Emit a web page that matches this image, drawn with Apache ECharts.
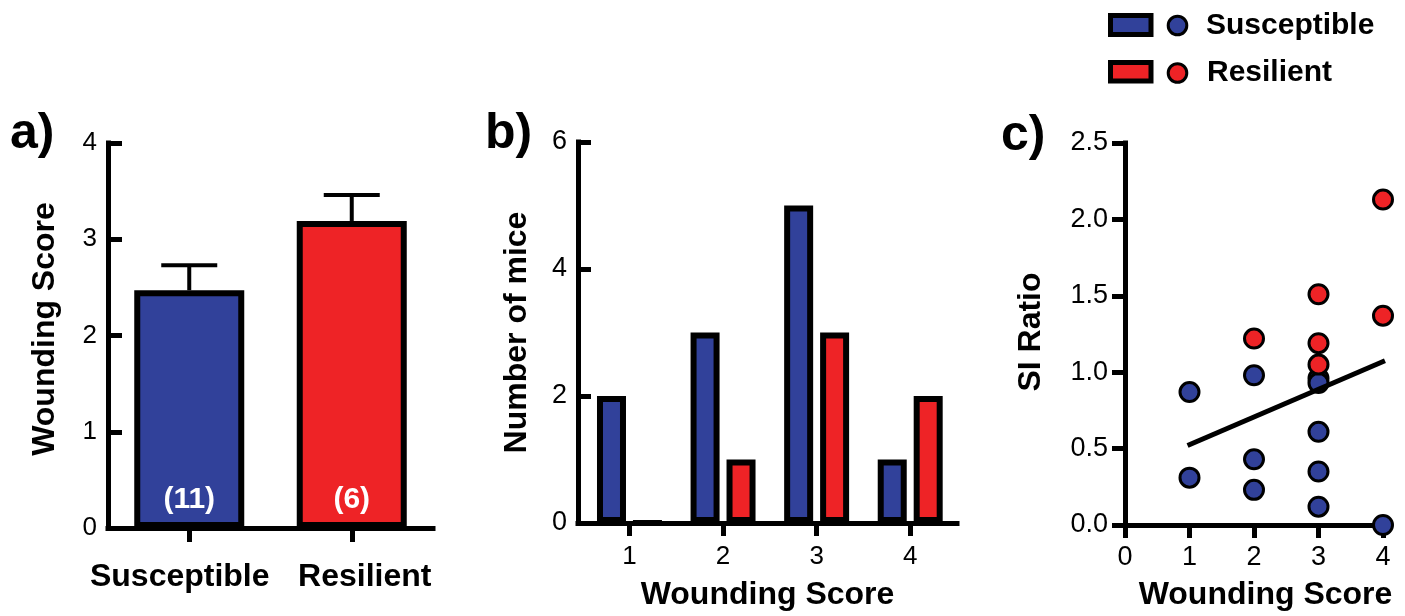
<!DOCTYPE html>
<html>
<head>
<meta charset="utf-8">
<script src="https://cdn.jsdelivr.net/npm/echarts@6/dist/echarts.min.js"></script>
<style>
html,body{margin:0;padding:0;background:#fff;}
#chart{width:1405px;height:616px;}
</style>
</head>
<body>
<div id="chart"></div>
<script>
// ---------- DATA ----------
// Panel a: mean wounding score by group
const categoriesA = ['Susceptible', 'Resilient'];
const meansA = [2.47, 3.19];
const semA = [0.26, 0.27];
const nLabelsA = ['(11)', '(6)'];

// Panel b: histogram of wounding scores
const scoresB = [1, 2, 3, 4];
const countSusceptible = [2, 3, 5, 1];
const countResilient = [0, 1, 3, 2];

// Panel c: SI ratio vs wounding score
const siSusceptible = [
  [1, 0.87], [1, 0.31],
  [2, 0.98], [2, 0.43], [2, 0.23],
  [3, 0.96], [3, 0.93], [3, 0.61], [3, 0.35], [3, 0.12],
  [4, 0.00]
];
const siResilient = [
  [2, 1.22],
  [3, 1.51], [3, 1.19], [3, 1.05],
  [4, 2.13], [4, 1.37]
];
const fitLineC = [[0.97, 0.52], [4.03, 1.075]];
const xTicksC = [0, 1, 2, 3, 4];

// ---------- STYLE ----------
const BLUE = '#31419a';
const RED = '#ee2326';
const FONT = '"Liberation Sans", Arial, Helvetica, sans-serif';
const AXW = 5;

const chart = echarts.init(document.getElementById('chart'), null, {renderer: 'canvas'});

function axisLine() { return {show: true, lineStyle: {color: '#000', width: AXW, cap: 'square'}}; }
function tickStyle(inside, len) { return {show: true, inside: inside, length: len, lineStyle: {color: '#000', width: AXW}}; }
const tickLabel = (size, margin) => ({color: '#000', fontFamily: FONT, fontSize: size, margin: margin});
const titleStyle = (pad) => ({color: '#000', fontFamily: FONT, fontSize: 32, fontWeight: 'bold', padding: pad});

const labelPads = [[0, 19, 0, 0], [0, 0, 0, 26]];

const option = {
  animation: false,
  backgroundColor: '#fff',
  grid: [
    {left: 108, top: 143, width: 325, height: 385},
    {left: 578, top: 142, width: 379, height: 383},
    {left: 1125, top: 143, width: 258, height: 384}
  ],
  xAxis: [
    {
      gridIndex: 0, type: 'category',
      data: categoriesA.map((c, i) => ({value: c, textStyle: {padding: labelPads[i]}})),
      axisLine: axisLine(),
      axisTick: Object.assign(tickStyle(false, 14), {alignWithLabel: true, interval: 0}),
      axisLabel: Object.assign(tickLabel(32, 33), {fontWeight: 'bold', interval: 0, hideOverlap: false}),
      splitLine: {show: false}
    },
    {
      gridIndex: 1, type: 'value', min: 0.45, max: 4.5,
      axisLine: axisLine(),
      axisTick: Object.assign(tickStyle(false, 13), {customValues: scoresB}),
      axisLabel: Object.assign(tickLabel(26, 21), {customValues: scoresB}),
      splitLine: {show: false},
      name: 'Wounding Score', nameLocation: 'middle', nameGap: 56,
      nameTextStyle: titleStyle([0, 0, 0, 0])
    },
    {
      gridIndex: 2, type: 'value', min: 0, max: 4, interval: 1,
      axisLine: axisLine(), axisTick: tickStyle(false, 13),
      axisLabel: Object.assign(tickLabel(27, 19), {customValues: xTicksC}),
      splitLine: {show: false},
      name: 'Wounding Score', nameLocation: 'middle', nameGap: 54,
      nameTextStyle: titleStyle([0, 0, 0, 23])
    }
  ],
  yAxis: [
    {
      gridIndex: 0, type: 'value', min: 0, max: 4, interval: 1,
      axisLine: axisLine(), axisTick: tickStyle(true, 14),
      axisLabel: tickLabel(26, 11),
      splitLine: {show: false},
      name: 'Wounding Score', nameLocation: 'middle', nameRotate: 90, nameGap: 47,
      nameTextStyle: titleStyle([0, 0, 0, 13])
    },
    {
      gridIndex: 1, type: 'value', min: 0, max: 6, interval: 2,
      axisLine: axisLine(), axisTick: tickStyle(true, 13),
      axisLabel: tickLabel(27, 11),
      splitLine: {show: false},
      name: 'Number of mice', nameLocation: 'middle', nameRotate: 90, nameGap: 45,
      nameTextStyle: titleStyle([0, 0, 0, 0])
    },
    {
      gridIndex: 2, type: 'value', min: 0, max: 2.5, interval: 0.5,
      axisLine: axisLine(), axisTick: tickStyle(false, 13),
      axisLabel: Object.assign(tickLabel(27, 17), {formatter: v => v.toFixed(1)}),
      splitLine: {show: false},
      name: 'SI Ratio', nameLocation: 'middle', nameRotate: 90, nameGap: 78,
      nameTextStyle: titleStyle([0, 0, 0, 4])
    }
  ],
  series: [
    // Panel a bars
    {
      type: 'bar', xAxisIndex: 0, yAxisIndex: 0, barWidth: 110,
      data: meansA.map((v, i) => ({value: v, itemStyle: {color: i === 0 ? BLUE : RED}})),
      itemStyle: {borderColor: '#000', borderWidth: 6},
      label: {
        show: true, position: 'insideBottom', distance: 13,
        formatter: p => nLabelsA[p.dataIndex],
        color: '#fff', fontFamily: FONT, fontSize: 30, fontWeight: 'bold'
      },
      z: 2
    },
    // Panel a error bars
    {
      type: 'custom', xAxisIndex: 0, yAxisIndex: 0,
      data: meansA.map((m, i) => [i, m, semA[i]]),
      renderItem: function (params, api) {
        const x = api.value(0), m = api.value(1), e = api.value(2);
        const p0 = api.coord([x, m]);
        const p1 = api.coord([x, m + e]);
        const st = {stroke: '#000', lineWidth: 4};
        return {
          type: 'group',
          children: [
            {type: 'line', shape: {x1: p0[0], y1: p0[1], x2: p1[0], y2: p1[1]}, style: st},
            {type: 'line', shape: {x1: p1[0] - 28, y1: p1[1], x2: p1[0] + 28, y2: p1[1]}, style: st}
          ]
        };
      },
      z: 1
    },
    // Panel b histogram
    {
      name: 'Susceptible', type: 'bar', xAxisIndex: 1, yAxisIndex: 1,
      data: scoresB.map((s, i) => [s, countSusceptible[i]]),
      barWidth: 29, barGap: '24%',
      itemStyle: {color: BLUE, borderColor: '#000', borderWidth: 6}
    },
    {
      name: 'Resilient', type: 'bar', xAxisIndex: 1, yAxisIndex: 1,
      data: scoresB.map((s, i) => [s, countResilient[i]]),
      barWidth: 29, barGap: '24%',
      itemStyle: {color: RED, borderColor: '#000', borderWidth: 6}
    },
    // Panel c scatter
    {
      name: 'Susceptible', type: 'scatter', xAxisIndex: 2, yAxisIndex: 2,
      data: siSusceptible, symbol: 'circle', symbolSize: 19, clip: false,
      itemStyle: {color: BLUE, borderColor: '#000', borderWidth: 3, opacity: 1}, z: 3
    },
    {
      name: 'Resilient', type: 'scatter', xAxisIndex: 2, yAxisIndex: 2,
      data: siResilient, symbol: 'circle', symbolSize: 19, clip: false,
      itemStyle: {color: RED, borderColor: '#000', borderWidth: 3, opacity: 1}, z: 3
    },
    {
      type: 'line', xAxisIndex: 2, yAxisIndex: 2, data: fitLineC,
      showSymbol: false, symbol: 'none',
      lineStyle: {color: '#000', width: 5}, z: 4
    }
  ],
  graphic: [
    {type: 'text', style: {text: 'a)', x: 10, y: 134, verticalAlign: 'middle', font: 'bold 50px ' + FONT, fill: '#000'}},
    {type: 'text', style: {text: 'b)', x: 485, y: 134, verticalAlign: 'middle', font: 'bold 50px ' + FONT, fill: '#000'}},
    {type: 'text', style: {text: 'c)', x: 1001, y: 136, verticalAlign: 'middle', font: 'bold 50px ' + FONT, fill: '#000'}},
    // legend
    {type: 'rect', shape: {x: 1110.5, y: 15.5, width: 40.5, height: 19}, style: {fill: BLUE, stroke: '#000', lineWidth: 5}},
    {type: 'circle', shape: {cx: 1177.5, cy: 25.5, r: 9.3}, style: {fill: BLUE, stroke: '#000', lineWidth: 3}},
    {type: 'text', style: {text: 'Susceptible', x: 1206, y: 26, verticalAlign: 'middle', font: 'bold 30px ' + FONT, fill: '#000'}},
    {type: 'rect', shape: {x: 1110.5, y: 62.5, width: 40.5, height: 18.5}, style: {fill: RED, stroke: '#000', lineWidth: 5}},
    {type: 'circle', shape: {cx: 1177.5, cy: 73, r: 9.3}, style: {fill: RED, stroke: '#000', lineWidth: 3}},
    {type: 'text', style: {text: 'Resilient', x: 1207, y: 73, verticalAlign: 'middle', font: 'bold 30px ' + FONT, fill: '#000'}}
  ]
};

chart.setOption(option);
</script>
</body>
</html>
